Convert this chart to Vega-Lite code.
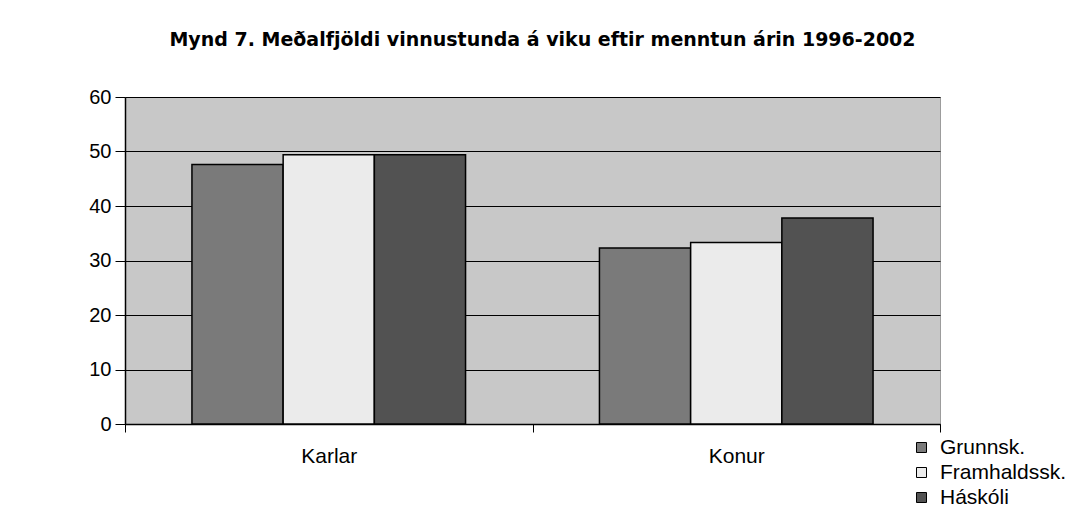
{
  "$schema": "https://vega.github.io/schema/vega-lite/v6.json",
  "width": 815,
  "height": 327,
  "autosize": {"type": "none"},
  "padding": {"left": 125, "top": 97, "right": 129, "bottom": 84},
  "background": "white",
  "title": {
    "text": "Mynd 7.  Meðalfjöldi vinnustunda á viku eftir menntun árin 1996-2002",
    "font": "DejaVu Sans",
    "fontSize": 19,
    "fontWeight": "bold",
    "color": "black",
    "anchor": "middle",
    "dx": 10,
    "offset": 37
  },
  "data": {
    "values": [
      {"kyn": "Karlar", "menntun": "Grunnsk.", "klst": 47.6},
      {"kyn": "Karlar", "menntun": "Framhaldssk.", "klst": 49.4},
      {"kyn": "Karlar", "menntun": "Háskóli", "klst": 49.4},
      {"kyn": "Konur", "menntun": "Grunnsk.", "klst": 32.3},
      {"kyn": "Konur", "menntun": "Framhaldssk.", "klst": 33.3},
      {"kyn": "Konur", "menntun": "Háskóli", "klst": 37.8}
    ]
  },
  "mark": {"type": "bar", "stroke": "black", "strokeWidth": 1.5},
  "encoding": {
    "x": {
      "field": "kyn",
      "type": "nominal",
      "sort": ["Karlar", "Konur"],
      "scale": {"paddingInner": 0, "paddingOuter": 0},
      "axis": {
        "title": null,
        "labelAngle": 0,
        "labelFont": "Liberation Sans",
        "labelFontSize": 21,
        "labelColor": "black",
        "labelPadding": 13,
        "domainColor": "black",
        "domainWidth": 1.5,
        "tickColor": "black",
        "tickBand": "extent",
        "tickSize": 8,
        "grid": false
      }
    },
    "xOffset": {
      "field": "menntun",
      "sort": ["Grunnsk.", "Framhaldssk.", "Háskóli"],
      "scale": {"paddingInner": 0, "paddingOuter": 0.734}
    },
    "y": {
      "field": "klst",
      "type": "quantitative",
      "scale": {"domain": [0, 60]},
      "axis": {
        "title": null,
        "values": [0, 10, 20, 30, 40, 50, 60],
        "labelFont": "Liberation Sans",
        "labelFontSize": 20,
        "labelColor": "black",
        "labelPadding": 4,
        "tickSize": 10,
        "tickColor": "black",
        "domainColor": "black",
        "domainWidth": 1.5,
        "grid": true,
        "gridColor": "black",
        "gridWidth": 1.2,
        "gridOpacity": 1
      }
    },
    "fill": {
      "field": "menntun",
      "type": "nominal",
      "scale": {
        "domain": ["Grunnsk.", "Framhaldssk.", "Háskóli"],
        "range": ["#7a7a7a", "#ebebeb", "#525252"]
      },
      "legend": {
        "title": null,
        "orient": "none",
        "legendX": 786,
        "legendY": 340,
        "symbolType": "square",
        "symbolSize": 100,
        "symbolStrokeColor": "black",
        "symbolStrokeWidth": 1,
        "symbolOpacity": 1,
        "labelFont": "Liberation Sans",
        "labelFontSize": 21,
        "labelColor": "black",
        "labelOffset": 8,
        "rowPadding": 3,
        "labelLimit": 300
      }
    }
  },
  "config": {
    "view": {"fill": "#c8c8c8", "stroke": "#555555", "strokeDash": [1, 1]}
  }
}
